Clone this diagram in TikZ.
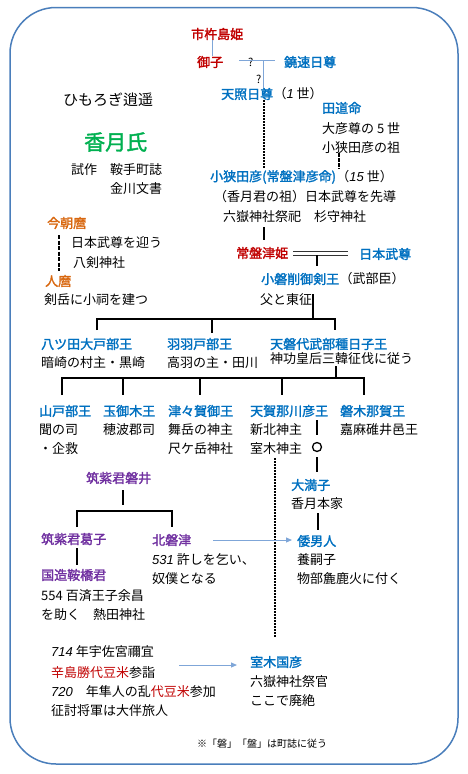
\documentclass[tikz,border=0pt]{standalone}
\usepackage{fontspec}
\setmainfont{Noto Sans CJK JP}
\newfontfamily\jpb{Noto Sans CJK JP}[FakeBold=2]
\newfontfamily\dgf{Liberation Sans}
\newcommand\dg[1]{{\dgf\itshape #1}}
\usetikzlibrary{arrows.meta}
\definecolor{jred}{HTML}{C00000}
\definecolor{jblue}{HTML}{0070C0}
\definecolor{jorange}{HTML}{D8670F}
\definecolor{jgreen}{HTML}{00B050}
\definecolor{jpurple}{HTML}{7030A0}
\definecolor{jframe}{HTML}{4A7EBB}
\definecolor{jlight}{HTML}{7FA6D8}
\begin{document}
\begin{tikzpicture}[x=1pt,y=-1pt,
  base/.style={inner sep=0pt,anchor=west},
  tx/.style={base,font=\fontsize{13}{15}\selectfont,text=black},
  blb/.style={base,font=\jpb\fontsize{13}{15}\selectfont,text=jblue},
  redb/.style={base,font=\jpb\fontsize{13}{15}\selectfont,text=jred},
  orb/.style={base,font=\jpb\fontsize{13}{15}\selectfont,text=jorange},
  pub/.style={base,font=\jpb\fontsize{13}{15}\selectfont,text=jpurple},
  qm/.style={base,font=\fontsize{11}{12}\selectfont,text=black},
  tree/.style={line width=1.8pt,black},
  thin/.style={line width=1pt,jlight},
  dotln/.style={black,line width=1.8pt,dash pattern=on 2pt off 1pt},
  arr/.style={line width=1pt,jlight,-{Triangle[length=6pt,width=5pt]}}
]
\useasboundingbox (0,0) rectangle (467,774);
\draw[jframe,line width=1.5pt,rounded corners=46pt] (10,7.5) rectangle (458,764);

% ---- top
\node[redb] (ichiki) at (191,34) {市杵島姫};
\node[redb] (miko) at (197,62) {御子};
\node[blb] (nigi) at (284,62) {鐃速日尊};
\node[qm] (q1) at (248,62) {?};
\node[qm] (q2) at (256,79) {?};
\node[blb] (amateru) at (221,94) {天照日尊};
\node[tx] (amateruS) at (amateru.east) {（\dg{1} 世）};
\coordinate (qa) at (239,60);
\coordinate (qb) at (275,60);
\coordinate (qj) at (263,60);
\draw[thin] (miko.north |- ichiki.south) ++(2,0) -- ++(0,16);
\draw[thin] (qa) -- (qb);
\draw[thin] (qj) -- (qj |- amateru.north);

\node[base,font=\fontsize{15}{17}\selectfont] (himorogi) at (63,100) {ひもろぎ逍遥};
\node[blb] (tamichi) at (322,108) {田道命};
\node[tx] (t1) at (322,129) {大彦尊の 5 世};
\node[tx] (t2) at (322,148) {小狭田彦の祖};
\node[base,font=\jpb\fontsize{21}{23}\selectfont,text=jgreen] (kagetsu) at (84,142) {香月氏};
\node[tx] (shisaku) at (71,170) {試作　鞍手町誌};
\node[tx] (kanagawa) at (110,189) {金川文書};

\node[blb] (osada) at (210,177) {小狭田彦(常盤津彦命)};
\node[tx] (osadaS) at (osada.east) {（\dg{15} 世）};
\node[tx] (o2) at (214,197) {（香月君の祖）日本武尊を先導};
\node[tx] (o3) at (223,217) {六嶽神社祭祀　杉守神社};

\draw[dotln,line width=1.6pt] (264,100) -- (264,168);
\draw[black,line width=2pt,dash pattern=on 3.5pt off 1.5pt] (339,153) -- (339,169);

\node[orb] (kesamaro) at (47,223) {今朝麿};
\node[tx] (k1) at (71,243) {日本武尊を迎う};
\node[tx] (k2) at (73,263) {八剣神社};
\node[orb] (hitomaro) at (45,281) {人麿};
\node[tx] (h1) at (44,300) {剣岳に小祠を建つ};
\draw[black,line width=2pt,dash pattern=on 4pt off 1.5pt] (59,235) -- (59,271);

% ---- tokiwa
\node[redb] (tokiwa) at (236,253) {常盤津姫};
\node[blb] (yamato) at (359,254) {日本武尊};
\draw[tree] (264,227) -- (264,240);
\draw[black!80,line width=0.9pt] (293,251) -- (348,251);
\draw[black!80,line width=0.9pt] (293,255) -- (348,255);
\node[blb] (koiwa) at (261,279) {小磐削御剣王};
\node[tx] (koiwaS) at (koiwa.east) {（武部臣）};
\node[tx] (ko2) at (260,300) {父と東征};
\draw[tree] (317,255) -- (317,266);

% ---- bus 1
\coordinate (b1) at (313,319);
\draw[tree] (313,294) -- (b1);
\draw[tree] (97,330) -- (97,319) -- (335,319) -- (335,330);
\draw[tree] (212,319) -- (212,333);
\node[blb] (yatsuda) at (41,344) {八ツ田大戸部王};
\node[tx] (ya2) at (41,363) {暗崎の村主・黒崎};
\node[blb] (hahato) at (167,344) {羽羽戸部王};
\node[tx] (ha2) at (167,363) {高羽の主・田川};
\node[blb] (amaiwa) at (270,344) {天磐代武部種日子王};
\node[tx] (am2) at (270,359) {神功皇后三韓征伐に従う};

% ---- bus 2
\draw[tree] (336,366) -- (336,378);
\draw[tree] (62,395) -- (62,378) -- (364,378) -- (364,395);
\draw[tree] (123,378) -- (123,395);
\draw[tree] (200,378) -- (200,395);
\draw[tree] (282,378) -- (282,395);

\node[blb] (yamabe) at (39,411) {山戸部王};
\node[tx] (yb2) at (39,430) {聞の司};
\node[tx] (yb3) at (39,449) {・企救};
\node[blb] (tamami) at (103,411) {玉御木王};
\node[tx] (tm2) at (103,430) {穂波郡司};
\node[blb] (tsutsuga) at (168,411) {津々賀御王};
\node[tx] (ts2) at (168,430) {舞岳の神主};
\node[tx] (ts3) at (168,449) {尺ケ岳神社};
\node[blb] (amaga) at (250,411) {天賀那川彦王};
\node[tx] (ag2) at (250,430) {新北神主};
\node[tx] (ag3) at (250,449) {室木神主};
\node[blb] (iwaki) at (340,411) {磐木那賀王};
\node[tx] (iw2) at (340,430) {嘉麻碓井邑王};

\draw[tree,line width=1.5pt] (317,420) -- (317,435);
\node[draw,black,line width=1.3pt,circle,minimum size=9pt,inner sep=0pt] (ring) at (317,447) {};
\draw[tree,line width=1.5pt] (317,457) -- (317,472);
\draw[dotln] (275,458) -- (275,637);

\node[blb] (omitsu) at (291,485) {大満子};
\node[tx] (om2) at (291,504) {香月本家};
\draw[tree,line width=1.5pt] (318,513) -- (318,530);
\node[blb] (yamatoo) at (297,541) {倭男人};
\node[tx] (yo2) at (297,560) {養嗣子};
\node[tx] (yo3) at (297,579) {物部麁鹿火に付く};

% ---- iwai
\node[pub] (iwai) at (86,478) {筑紫君磐井};
\draw[tree] (123,490) -- (123,505);
\draw[tree] (77,527) -- (77,511) -- (172,511) -- (172,527);
\node[pub] (kuzuko) at (41,539) {筑紫君葛子};
\draw[tree] (77,548) -- (77,565);
\node[pub] (kuraji) at (41,575) {国造鞍橋君};
\node[tx] (kr2) at (41,596) {554 百済王子余昌};
\node[tx] (kr3) at (41,615) {を助く　熱田神社};
\node[pub] (kitaiwa) at (152,540) {北磐津};
\node[tx] (ki2) at (152,560) {\dg{531} 許しを乞い、};
\node[tx] (ki3) at (152,579) {奴僕となる};
\draw[arr,shorten <=22pt,shorten >=5pt] (kitaiwa.east) -- (yamatoo.west |- kitaiwa.east);

% ---- bottom
\node[tx] (u1) at (51,652) {\dg{714} 年宇佐宮禰宜};
\node[tx] (u2) at (51,673) {\textcolor{jred}{辛島勝代豆米}参詣};
\node[tx] (u3) at (51,692) {\dg{720}　年隼人の乱\textcolor{jred}{代豆米}参加};
\node[tx] (u4) at (51,711) {征討将軍は大伴旅人};
\node[blb] (muroki) at (250,662) {室木国彦};
\node[tx] (mk2) at (250,682) {六嶽神社祭官};
\node[tx] (mk3) at (250,701) {ここで廃絶};
\coordinate (a2s) at (179,665);
\coordinate (a2e) at (237,665);
\draw[arr] (a2s) -- (a2e);

\node[base,font=\fontsize{10}{11}\selectfont] (note) at (197,744) {※「磐」「盤」は町誌に従う};
\end{tikzpicture}
\end{document}
